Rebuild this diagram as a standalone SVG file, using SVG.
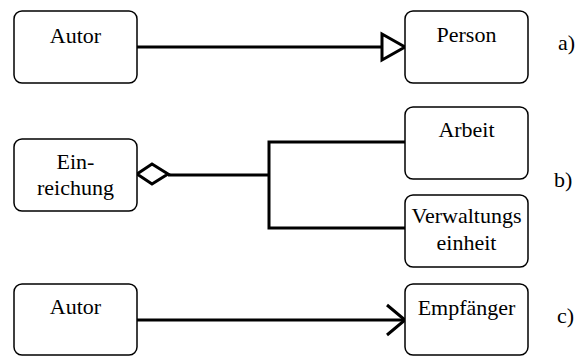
<svg xmlns="http://www.w3.org/2000/svg" width="576" height="356" viewBox="0 0 576 356">
  <style>
    .box { fill: #fff; stroke: #000; stroke-width: 1.5; }
    text { font-family: 'Liberation Serif', Tinos, 'Times New Roman', Times, 'Noto Serif', 'DejaVu Serif', serif; font-size: 22px; fill: #000; }
    .lbl { text-anchor: middle; }
    .edge { fill: none; stroke: #000; stroke-width: 3; }
    .head { fill: #fff; stroke: #000; stroke-width: 3; stroke-linejoin: miter; }
  </style>
  <rect width="576" height="356" fill="#fff"/>

  <!-- connectors -->
  <g id="connectors">
    <!-- a) generalization -->
    <line class="edge" x1="137" y1="47" x2="382" y2="47"/>
    <polygon class="head" points="382,34 405,47 382,60"/>
    <!-- b) aggregation with branch -->
    <polyline class="edge" points="168,175 269,175"/>
    <polyline class="edge" points="405,142 269,142 269,228 405,228"/>
    <polygon class="head" points="137,174 152,164 168,174 152,184"/>
    <!-- c) directed association -->
    <line class="edge" x1="137" y1="320" x2="404" y2="320"/>
    <polyline class="edge" points="387,305 405,320 387,335"/>
  </g>

  <g id="autor-a">
    <rect class="box" x="14" y="11" width="123" height="72" rx="8"/>
    <text class="lbl" x="75.5" y="43">Autor</text>
  </g>
  <g id="person">
    <rect class="box" x="405" y="11" width="123" height="72" rx="8"/>
    <text class="lbl" x="466.5" y="42">Person</text>
  </g>
  <g id="einreichung">
    <rect class="box" x="14" y="139" width="123" height="72" rx="8"/>
    <text class="lbl" x="75.5" y="169">Ein-</text>
    <text class="lbl" x="75.5" y="195">reichung</text>
  </g>
  <g id="arbeit">
    <rect class="box" x="405" y="107" width="123" height="72" rx="8"/>
    <text class="lbl" x="466.5" y="137">Arbeit</text>
  </g>
  <g id="verwaltungseinheit">
    <rect class="box" x="405" y="195" width="123" height="72" rx="8"/>
    <text class="lbl" x="466.5" y="223">Verwaltungs</text>
    <text class="lbl" x="466.5" y="250">einheit</text>
  </g>
  <g id="autor-c">
    <rect class="box" x="14" y="284" width="123" height="71" rx="8"/>
    <text class="lbl" x="75.5" y="314">Autor</text>
  </g>
  <g id="empfaenger">
    <rect class="box" x="405" y="284" width="123" height="71" rx="8"/>
    <text class="lbl" x="466.5" y="315">Empfänger</text>
  </g>

  <g id="tags">
    <text x="558" y="50">a)</text>
    <text x="554" y="187">b)</text>
    <text x="557" y="323">c)</text>
  </g>
</svg>
